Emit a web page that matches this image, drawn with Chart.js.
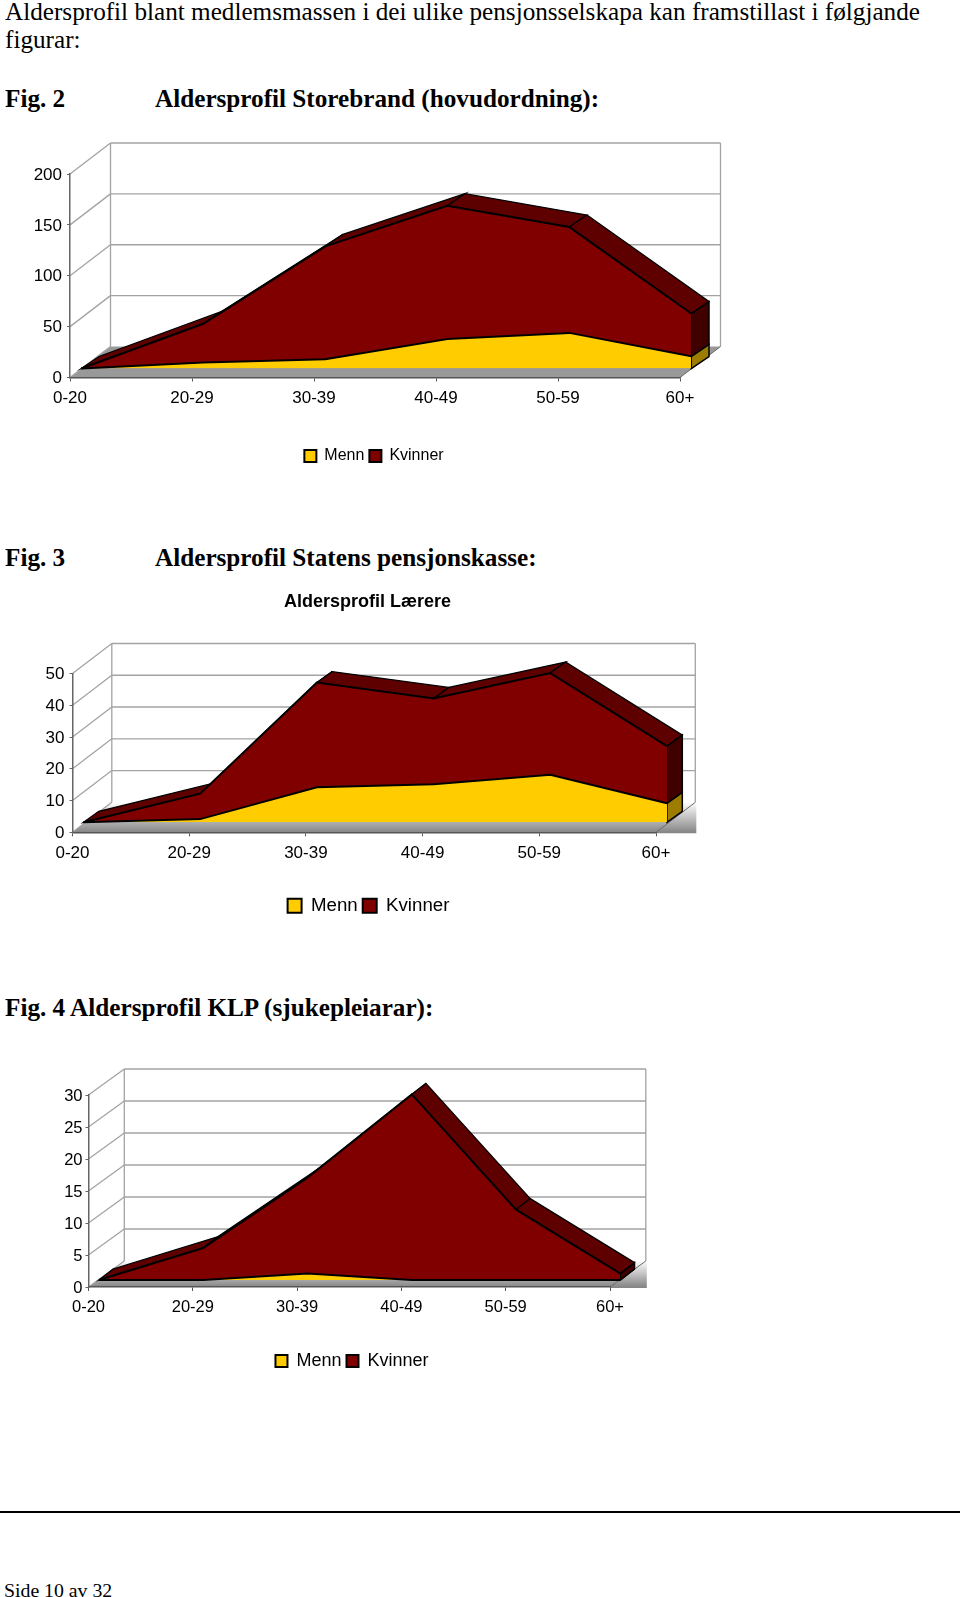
<!DOCTYPE html>
<html>
<head>
<meta charset="utf-8">
<title>Aldersprofil</title>
<script src="https://cdn.jsdelivr.net/npm/chart.js@4"></script>
<style>
    html, body { margin: 0; padding: 0; background: #fff; }
    body { position: relative; width: 960px; height: 1597px; overflow: hidden; }
    .tekst { position: absolute; white-space: nowrap; font-family: "Liberation Serif", serif; font-size: 25.2px; line-height: 24px; color: #000; }
    .fig { font-weight: bold; }
    canvas { position: absolute; left: 0; }
    #strek { position: absolute; left: 0; top: 1511px; width: 960px; height: 2px; background: #000; }
</style>
</head>
<body>
<div class="tekst" style="left:5px;top:0px">Aldersprofil blant medlemsmassen i dei ulike pensjonsselskapa kan framstillast i følgjande</div>
<div class="tekst" style="left:5px;top:28px">figurar:</div>
<div class="tekst fig" style="left:5px;top:87px">Fig. 2</div>
<div class="tekst fig" style="left:155px;top:87px">Aldersprofil Storebrand (hovudordning):</div>
<canvas id="storebrand"></canvas>
<div class="tekst fig" style="left:5px;top:546px">Fig. 3</div>
<div class="tekst fig" style="left:155px;top:546px">Aldersprofil Statens pensjonskasse:</div>
<canvas id="statens"></canvas>
<div class="tekst fig" style="left:5px;top:996px">Fig. 4 Aldersprofil KLP (sjukepleiarar):</div>
<canvas id="klp"></canvas>
<div id="strek"></div>
<div class="tekst" style="left:4px;top:1578px;font-size:19.8px">Side 10 av 32</div>

<script>
var aldersgrupper = ["0-20", "20-29", "30-39", "40-49", "50-59", "60+"];

var storebrandMenn = [0, 6, 9, 29, 35, 12];
var storebrandKvinner = [0, 38, 111, 131, 104, 42];
var storebrandTicks = [0, 50, 100, 150, 200];

var statensMenn = [0, 1, 11, 12, 15, 6];
var statensKvinner = [0, 8, 33, 27, 32, 18];
var statensTicks = [0, 10, 20, 30, 40, 50];

var klpMenn = [0, 0, 1, 0, 0, 0];
var klpKvinner = [0, 5, 15, 29, 11, 1];
var klpTicks = [0, 5, 10, 15, 20, 25, 30];

var GUL = '#ffcc00';
var RAUD = '#800000';

Chart.defaults.font.family = '"Liberation Sans", Arial, sans-serif';
Chart.defaults.color = '#000';

function polygon(ctx, pts, fill, stroke, width) {
    ctx.beginPath();
    ctx.moveTo(pts[0][0], pts[0][1]);
    for (var i = 1; i < pts.length; i++) {
        ctx.lineTo(pts[i][0], pts[i][1]);
    }
    ctx.closePath();
    if (fill) {
        ctx.fillStyle = fill;
        ctx.fill();
    }
    if (stroke) {
        ctx.strokeStyle = stroke;
        ctx.lineWidth = width;
        ctx.stroke();
    }
}

function line(ctx, x1, y1, x2, y2) {
    ctx.beginPath();
    ctx.moveTo(x1, y1);
    ctx.lineTo(x2, y2);
    ctx.stroke();
}

// the fake 3d room and the sides of the areas, from the scales of the chart
var tredje = {
    id: 'tredje',
    afterLayout: function (chart, args, opts) {
        // right padding pulls legend and title off centre, put them back
        var d = opts.legendCenter - (chart.legend.left + chart.legend.right) / 2;
        chart.legend.left += d;
        chart.legend.right += d;
        if (opts.titleCenter) {
            var t = opts.titleCenter - (chart.titleBlock.left + chart.titleBlock.right) / 2;
            chart.titleBlock.left += t;
            chart.titleBlock.right += t;
        }
    },
    beforeDatasetsDraw: function (chart, args, opts) {
        var ctx = chart.ctx;
        var a = chart.chartArea;
        var L = a.left, R = a.right, T = a.top, B = a.bottom;
        var wx = opts.wall[0], wy = opts.wall[1];

        ctx.save();
        var golv = '#999999';
        if (opts.gradient) {
            golv = ctx.createLinearGradient(0, B + wy, 0, B);
            golv.addColorStop(0, '#ffffff');
            golv.addColorStop(1, '#868686');
            polygon(ctx, [[R, B], [R + wx, B + wy], [R + wx + 1, B + wy], [R + wx + 1, B + 1], [R, B + 1]], golv);
        }
        polygon(ctx, [[L, B], [R, B], [R + wx, B + wy], [L + wx, B + wy]], golv);

        ctx.strokeStyle = '#a3a3a3';
        ctx.lineWidth = 1.3;
        var ticks = chart.scales.y.ticks;
        for (var i = 0; i < ticks.length; i++) {
            var y = chart.scales.y.getPixelForValue(ticks[i].value);
            line(ctx, L, y, L + wx, y + wy);
            if (i > 0) line(ctx, L + wx, y + wy, R + wx, y + wy);
        }
        line(ctx, L + wx, T + wy, L + wx, B + wy);
        line(ctx, R + wx, T + wy, R + wx, B + wy);
        ctx.strokeStyle = '#666';
        ctx.lineWidth = 1;
        line(ctx, R, B, R + wx, B + wy);

        var fx = opts.front[0], fy = opts.front[1], bx = opts.back[0], by = opts.back[1];
        var menn = chart.getDatasetMeta(0).data;
        var kvinner = chart.getDatasetMeta(1).data;
        for (var j = 0; j < kvinner.length - 1; j++) {
            var p = kvinner[j], q = kvinner[j + 1];
            polygon(ctx, [[p.x + fx, p.y + fy], [q.x + fx, q.y + fy], [q.x + bx, q.y + by], [p.x + bx, p.y + by]], '#5f0000', '#000', 1.3);
        }
        var n = kvinner.length - 1;
        var x = kvinner[n].x, yK = kvinner[n].y, yM = menn[n].y, y0 = chart.scales.y.getPixelForValue(0);
        polygon(ctx, [[x + fx, y0 + fy], [x + fx, yM + fy], [x + bx, yM + by], [x + bx, y0 + by]], '#9c7d00', '#000', 1.5);
        polygon(ctx, [[x + fx, yM + fy], [x + fx, yK + fy], [x + bx, yK + by], [x + bx, yM + by]], '#400000', '#000', 1.5);
        ctx.restore();

        // the areas themselves are drawn by the library, moved into the room
        ctx.save();
        ctx.translate(fx, fy);
    },
    afterDatasetsDraw: function (chart) {
        chart.ctx.restore();
    }
};

function makeChart(id, s) {
    var canvas = document.getElementById(id);
    var legendH = s.legendFont + s.legendPad + 10;
    var axisH = s.legendTop - s.plotBottom;
    var height = s.legendTop + legendH - s.top;
    canvas.style.top = s.top + 'px';
    canvas.width = s.width;
    canvas.height = height;

    return new Chart(canvas, {
        type: 'line',
        data: {
            labels: aldersgrupper,
            datasets: [{
                label: 'Menn',
                data: s.menn,
                backgroundColor: GUL,
                borderColor: '#000',
                borderWidth: 2,
                fill: 'origin',
                tension: 0,
                pointRadius: 0,
                clip: false
            }, {
                label: 'Kvinner',
                data: s.kvinner,
                backgroundColor: RAUD,
                borderColor: '#000',
                borderWidth: 2,
                fill: '-1',
                tension: 0,
                pointRadius: 0,
                clip: false
            }]
        },
        plugins: [tredje],
        options: {
            responsive: false,
            animation: false,
            layout: {
                autoPadding: false,
                padding: { left: 0, right: s.width - s.plotRight, top: s.title ? 0 : s.plotTop - s.top, bottom: 0 }
            },
            scales: {
                x: {
                    offset: false,
                    grid: { drawOnChartArea: false, drawTicks: true, tickLength: 4, color: '#555', z: 1 },
                    border: { color: '#555', width: 1.5, z: 1 },
                    ticks: { font: { size: s.tickFont }, padding: 7, maxRotation: 0, autoSkip: false, z: 1 },
                    afterFit: function (axis) { axis.height = axisH; }
                },
                y: {
                    stacked: true,
                    min: 0,
                    max: s.ticks[s.ticks.length - 1],
                    grid: { drawOnChartArea: false, drawTicks: true, tickLength: 3, color: '#666', z: 1 },
                    border: { color: '#666', width: 1.5, z: 1 },
                    ticks: { font: { size: s.tickFont }, padding: s.yPad, labelOffset: s.yDrop, z: 1 },
                    afterBuildTicks: function (axis) {
                        axis.ticks = s.ticks.map(function (v) { return { value: v }; });
                    },
                    afterFit: function (axis) { axis.width = s.plotLeft; }
                }
            },
            plugins: {
                tredje: {
                    wall: s.wall, front: s.front, back: s.back, gradient: s.gradient,
                    legendCenter: s.legendCenter, titleCenter: s.titleCenter
                },
                tooltip: { enabled: false },
                title: s.title ? {
                    display: true,
                    text: s.title,
                    font: { size: 18, weight: 'bold' },
                    color: '#000',
                    padding: { top: 11, bottom: s.plotTop - s.top - 11 - 21.6 }
                } : { display: false },
                legend: {
                    position: 'bottom',
                    labels: {
                        boxWidth: s.legendBox,
                        boxHeight: s.legendBox,
                        padding: s.legendPad,
                        font: { size: s.legendFont }
                    }
                }
            }
        }
    });
}

function initCharts() {
    makeChart('storebrand', {
        menn: storebrandMenn, kvinner: storebrandKvinner, ticks: storebrandTicks,
        top: 130, width: 748, plotLeft: 70, plotRight: 680, plotTop: 174, plotBottom: 377.5,
        wall: [40.5, -31], front: [11.3, -9], back: [29, -21],
        tickFont: 17, yPad: 5, yDrop: 1,
        legendFont: 16, legendBox: 12, legendPad: 5, legendTop: 443, legendCenter: 374
    });
    makeChart('statens', {
        menn: statensMenn, kvinner: statensKvinner, ticks: statensTicks,
        title: 'Aldersprofil Lærere', titleCenter: 367.5, gradient: true,
        top: 580, width: 737, plotLeft: 72.5, plotRight: 656, plotTop: 673.5, plotBottom: 833,
        wall: [39.3, -30], front: [11, -10], back: [26.3, -21],
        tickFont: 17, yPad: 5, yDrop: 1,
        legendFont: 18.7, legendBox: 14, legendPad: 5, legendTop: 892, legendCenter: 368.5
    });
    makeChart('klp', {
        menn: klpMenn, kvinner: klpKvinner, ticks: klpTicks, gradient: true,
        top: 1060, width: 704, plotLeft: 88.5, plotRight: 610, plotTop: 1095, plotBottom: 1287,
        wall: [35.8, -26], front: [10.4, -7], back: [24.5, -18],
        tickFont: 16.5, yPad: 3, yDrop: 1.5,
        legendFont: 18, legendBox: 12, legendPad: 5, legendTop: 1347, legendCenter: 352
    });
}

document.addEventListener('DOMContentLoaded', initCharts);
</script>
</body>
</html>
